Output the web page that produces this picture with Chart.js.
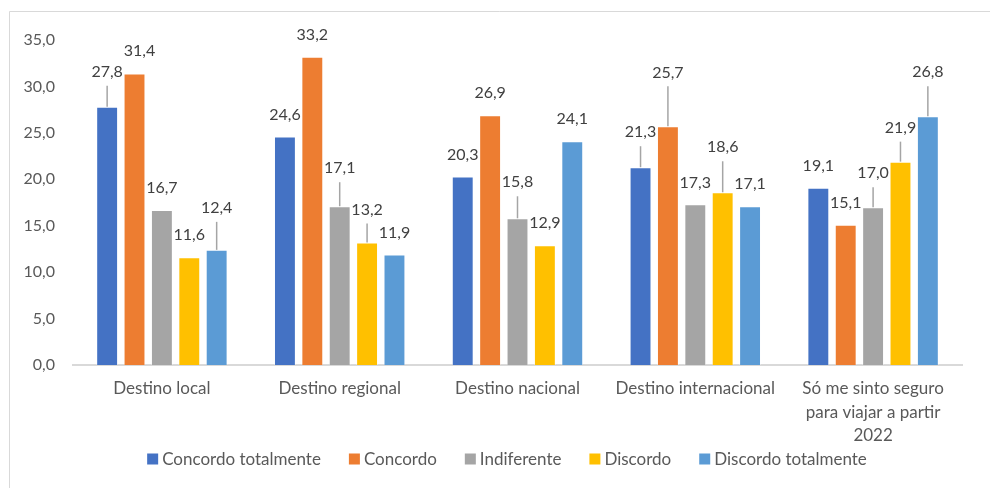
<!DOCTYPE html>
<html>
<head>
<meta charset="utf-8">
<script src="https://cdn.jsdelivr.net/npm/chart.js@4"></script>
<style>
  html, body { margin: 0; padding: 0; background: #fff; }
  canvas { display: block; }
</style>
</head>
<body>
<canvas id="chart" width="990" height="488"></canvas>
<script>
// categories on the x axis
var categories = [
  'Destino local',
  'Destino regional',
  'Destino nacional',
  'Destino internacional',
  ['Só me sinto seguro', 'para viajar a partir', '2022']
];

// series (percentages)
var concordoTotalmente = [27.8, 24.6, 20.3, 21.3, 19.1];
var concordo           = [31.4, 33.2, 26.9, 25.7, 15.1];
var indiferente        = [16.7, 17.1, 15.8, 17.3, 17.0];
var discordo           = [11.6, 13.2, 12.9, 18.6, 21.9];
var discordoTotalmente = [12.4, 11.9, 24.1, 17.1, 26.8];

// y axis ticks
var yTicks = [0, 5, 10, 15, 20, 25, 30, 35];

// extra lift (px) for labels that sit on a leader line, per series
var labelLift = [
  [13, 0, 0, 13, 0],
  [1, 0, 0, 32, 0],
  [0, 16, 14, 0, 12],
  [0, 11, 0, 23, 12],
  [20, 0, 0, 0, 22]
];
var labelShift = [
  [0, 0, 0, 0, 0],
  [5, 0, 0, 0, 0],
  [0, 0, 0, 0, 0],
  [0, 0, 0, 0, 0],
  [0, 0, 0, 0, 0]
];

var FONT = 'Lato, "Open Sans", sans-serif';

function fmt(v) {
  return v.toFixed(1).replace('.', ',');
}

// light frame around the chart
var framePlugin = {
  id: 'frame',
  beforeDraw: function(chart) {
    var ctx = chart.ctx;
    ctx.save();
    ctx.fillStyle = '#fff';
    ctx.fillRect(0, 0, chart.width, chart.height);
    ctx.strokeStyle = '#d9d9d9';
    ctx.lineWidth = 1;
    ctx.beginPath();
    ctx.moveTo(9.5, chart.height);
    ctx.lineTo(9.5, 11.5);
    ctx.lineTo(chart.width, 11.5);
    ctx.stroke();
    ctx.restore();
  }
};

// value labels, with leader lines where they are lifted
var valueLabels = {
  id: 'valueLabels',
  afterDatasetsDraw: function(chart) {
    var ctx = chart.ctx;
    ctx.save();
    ctx.font = '16px ' + FONT;
    ctx.textAlign = 'center';
    ctx.textBaseline = 'middle';
    chart.data.datasets.forEach(function(ds, di) {
      var meta = chart.getDatasetMeta(di);
      meta.data.forEach(function(bar, i) {
        var lift = labelLift[di][i];
        var ly = bar.y - 22 - lift;
        if (lift > 4) {
          ctx.strokeStyle = '#a5a5a5';
          ctx.lineWidth = 1.5;
          ctx.beginPath();
          ctx.moveTo(bar.x, ly + 14);
          ctx.lineTo(bar.x, bar.y);
          ctx.stroke();
        }
        ctx.fillStyle = '#404040';
        ctx.fillText(fmt(ds.data[i]), bar.x + labelShift[di][i], ly);
      });
    });
    ctx.restore();
  }
};

// legend row under the axis labels
var legendRow = {
  id: 'legendRow',
  afterDraw: function(chart) {
    var ctx = chart.ctx;
    ctx.save();
    ctx.font = '17px ' + FONT;
    ctx.textBaseline = 'middle';
    var sets = chart.data.datasets;
    var box = 11, gapText = 4, gapItem = 28;
    var total = 0;
    sets.forEach(function(ds, i) {
      total += box + gapText + ctx.measureText(ds.label).width;
      if (i < sets.length - 1) total += gapItem;
    });
    var x = chart.width / 2 + 12 - total / 2;
    var y = 459;
    sets.forEach(function(ds) {
      ctx.fillStyle = ds.backgroundColor;
      ctx.fillRect(x, y - box / 2, box, box);
      x += box + gapText;
      ctx.fillStyle = '#595959';
      ctx.fillText(ds.label, x, y + 1);
      x += ctx.measureText(ds.label).width + gapItem;
    });
    ctx.restore();
  }
};

function series(label, data, color) {
  return {
    label: label,
    data: data,
    backgroundColor: color,
    borderColor: 'rgba(255,255,255,0.35)',
    borderWidth: 1,
    categoryPercentage: 0.77,
    barPercentage: 0.8
  };
}

new Chart(document.getElementById('chart'), {
  type: 'bar',
  data: {
    labels: categories,
    datasets: [
      series('Concordo totalmente', concordoTotalmente, '#4472C4'),
      series('Concordo', concordo, '#ED7D31'),
      series('Indiferente', indiferente, '#A5A5A5'),
      series('Discordo', discordo, '#FFC000'),
      series('Discordo totalmente', discordoTotalmente, '#5B9BD5')
    ]
  },
  options: {
    responsive: false,
    animation: false,
    layout: { padding: { top: 40, right: 28, bottom: 38, left: 0 } },
    plugins: {
      legend: { display: false },
      tooltip: { enabled: false }
    },
    scales: {
      x: {
        grid: { display: false, drawTicks: false },
        border: { display: true, color: '#d9d9d9', width: 2 },
        ticks: {
          color: '#595959',
          font: { family: FONT, size: 17, lineHeight: 1.38 },
          padding: 12,
          maxRotation: 0,
          autoSkip: false
        },
        afterFit: function(scale) { scale.height = 85; }
      },
      y: {
        min: 0,
        max: 35,
        afterBuildTicks: function(scale) {
          scale.ticks = yTicks.map(function(v) { return { value: v }; });
        },
        grid: { display: false, drawTicks: false },
        border: { display: false },
        ticks: {
          color: '#595959',
          font: { family: FONT, size: 16 },
          padding: 18,
          callback: function(v) { return fmt(v); }
        },
        afterFit: function(scale) { scale.width = 73; }
      }
    }
  },
  plugins: [framePlugin, valueLabels, legendRow]
});
</script>
</body>
</html>
